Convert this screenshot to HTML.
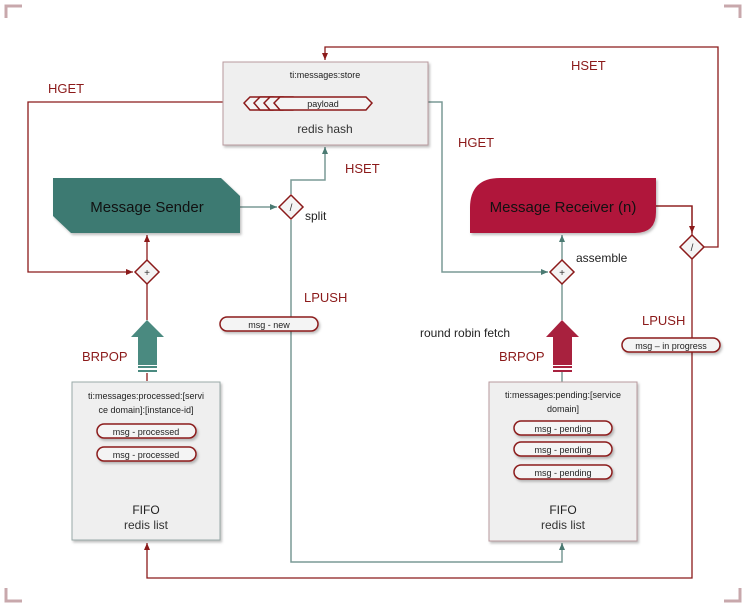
<!DOCTYPE html>
<html><head><meta charset="utf-8"><style>
html,body{margin:0;padding:0;background:#fff;width:746px;height:609px;overflow:hidden}
svg{display:block;font-family:"Liberation Sans",sans-serif}
</style></head><body>
<svg width="746" height="609" viewBox="0 0 746 609" xmlns="http://www.w3.org/2000/svg">
<defs>
<marker id="ar" markerWidth="8" markerHeight="8" refX="7" refY="4" orient="auto" markerUnits="userSpaceOnUse"><path d="M0,1 L7,4 L0,7Z" fill="#8b1a1a"/></marker>
<marker id="at" markerWidth="8" markerHeight="8" refX="7" refY="4" orient="auto" markerUnits="userSpaceOnUse"><path d="M0,1 L7,4 L0,7Z" fill="#4a7a72"/></marker>
<filter id="sh" x="-5%" y="-5%" width="115%" height="120%"><feDropShadow dx="1.5" dy="2" stdDeviation="1.2" flood-color="#000" flood-opacity="0.25"/></filter>
</defs>
<!-- corner brackets -->
<g fill="none" stroke="#c8a8ac" stroke-width="3">
<path d="M6,18 V6 H22"/><path d="M724,6 H740 V18"/><path d="M6,588 V601 H22"/><path d="M724,601 H740 V588"/>
</g>
<!-- red connectors -->
<g fill="none" stroke="#8b1a1a" stroke-width="1.3">
<path d="M692,235 V206 H656" />
<path d="M704,247 H718 V47 H325 V60" marker-end="url(#ar)"/>
<path d="M223,102 H28 V272 H133" marker-end="url(#ar)"/>
<path d="M147,260 V235" marker-end="url(#ar)"/>
<path d="M147,284 V320"/>
<path d="M692,259 V578 H147 V543" marker-end="url(#ar)"/>
<path d="M656,206 H692 V233" marker-end="url(#ar)"/>
</g>
<!-- teal connectors -->
<g fill="none" stroke="#7a9a96" stroke-width="1.5">
<path d="M240,207 H277" marker-end="url(#at)"/>
<path d="M291,194 V180 H325 V147" marker-end="url(#at)"/>
<path d="M291,220 V562 H562 V543" marker-end="url(#at)"/>
<path d="M428,102 H442 V272 H548" marker-end="url(#at)"/>
<path d="M562,260 V235" marker-end="url(#at)"/>
<path d="M562,284 V320"/>
<path d="M562,372 V382"/>
</g>
<!-- store box -->
<rect x="223" y="62" width="205" height="83" fill="#efefef" stroke="#b89a9e" filter="url(#sh)"/>
<text x="325" y="78" font-size="9" text-anchor="middle" fill="#222">ti:messages:store</text>
<g fill="#f4f4f4" stroke="#8b1a1a" stroke-width="1.5">
<path d="M250,97 H272 L266,103 L272,110 H250 L244,103Z"/>
<path d="M260,97 H282 L276,103 L282,110 H260 L254,103Z"/>
<path d="M270,97 H292 L286,103 L292,110 H270 L264,103Z"/>
<path d="M280,97 H366 L372,103 L366,110 H280 L274,103Z"/>
</g>
<text x="323" y="107" font-size="9" text-anchor="middle" fill="#222">payload</text>
<text x="325" y="133" font-size="12" text-anchor="middle" fill="#333">redis hash</text>
<!-- sender -->
<path d="M53,178 H221 L240,196 V233 H71 L53,216Z" fill="#3e7a72" filter="url(#sh)"/>
<text x="147" y="212" font-size="15" text-anchor="middle" fill="#111">Message Sender</text>
<!-- receiver -->
<path d="M500,178 H656 V212 Q656,233 635,233 H470 V208 Q470,178 500,178Z" fill="#b0193b" filter="url(#sh)"/>
<text x="563" y="212" font-size="15" text-anchor="middle" fill="#111">Message Receiver (n)</text>
<!-- diamonds -->
<g fill="#f4f4f4" stroke="#8b1a1a" stroke-width="1.5">
<path d="M291,195 L303,207 L291,219 L279,207Z"/>
<path d="M147,260 L159,272 L147,284 L135,272Z"/>
<path d="M562,260 L574,272 L562,284 L550,272Z"/>
<path d="M692,235 L704,247 L692,259 L680,247Z"/>
</g>
<g font-size="10" text-anchor="middle" fill="#333">
<text x="291" y="211">/</text><text x="147" y="276">+</text><text x="562" y="276">+</text><text x="692" y="251">/</text>
</g>
<!-- big arrows -->
<path d="M131,337 L147,320 L164,337 H157 V365 H138 V337Z" fill="#4a8a80"/>
<rect x="138" y="366" width="19" height="2" fill="#4a8a80"/><rect x="138" y="370" width="19" height="2" fill="#4a8a80"/>
<path d="M546,337 L562,320 L579,337 H572 V365 H553 V337Z" fill="#a8213e"/>
<rect x="553" y="366" width="19" height="2" fill="#a8213e"/><rect x="553" y="370" width="19" height="2" fill="#a8213e"/>
<path d="M147,373 V381" stroke="#8b1a1a" stroke-width="1.3"/>
<!-- list boxes -->
<rect x="72" y="382" width="148" height="158" fill="#efefef" stroke="#9aaaa8" filter="url(#sh)"/>
<text x="146" y="399" font-size="9" text-anchor="middle" fill="#222">ti:messages:processed:[servi</text>
<text x="146" y="413" font-size="9" text-anchor="middle" fill="#222">ce domain]:[instance-id]</text>
<text x="146" y="514" font-size="12" text-anchor="middle" fill="#222">FIFO</text>
<text x="146" y="529" font-size="12" text-anchor="middle" fill="#333">redis list</text>
<rect x="489" y="382" width="148" height="159" fill="#efefef" stroke="#b89a9e" filter="url(#sh)"/>
<text x="563" y="398" font-size="9" text-anchor="middle" fill="#222">ti:messages:pending:[service</text>
<text x="563" y="412" font-size="9" text-anchor="middle" fill="#222">domain]</text>
<text x="563" y="514" font-size="12" text-anchor="middle" fill="#222">FIFO</text>
<text x="563" y="529" font-size="12" text-anchor="middle" fill="#333">redis list</text>
<!-- pills -->
<g fill="#f4f4f4" stroke="#8b1a1a" stroke-width="1.5" filter="url(#sh)">
<rect x="220" y="317" width="98" height="14" rx="7"/>
<rect x="622" y="338" width="98" height="14" rx="7"/>
<rect x="97" y="424" width="99" height="14" rx="7"/>
<rect x="97" y="447" width="99" height="14" rx="7"/>
<rect x="514" y="421" width="98" height="14" rx="7"/>
<rect x="514" y="442" width="98" height="14" rx="7"/>
<rect x="514" y="465" width="98" height="14" rx="7"/>
</g>
<g font-size="9" text-anchor="middle" fill="#222">
<text x="269" y="328">msg - new</text>
<text x="671" y="349">msg – in progress</text>
<text x="146" y="435">msg - processed</text>
<text x="146" y="458">msg - processed</text>
<text x="563" y="432">msg - pending</text>
<text x="563" y="453">msg - pending</text>
<text x="563" y="476">msg - pending</text>
</g>
<!-- labels -->
<g font-size="13" fill="#8b1a1a">
<text x="48" y="93">HGET</text>
<text x="571" y="70">HSET</text>
<text x="345" y="173">HSET</text>
<text x="458" y="147">HGET</text>
<text x="304" y="302">LPUSH</text>
<text x="642" y="325">LPUSH</text>
<text x="82" y="361">BRPOP</text>
<text x="499" y="361">BRPOP</text>
</g>
<g font-size="12" fill="#222">
<text x="305" y="220">split</text>
<text x="576" y="262">assemble</text>
<text x="420" y="337">round robin fetch</text>
</g>
</svg>
</body></html>
